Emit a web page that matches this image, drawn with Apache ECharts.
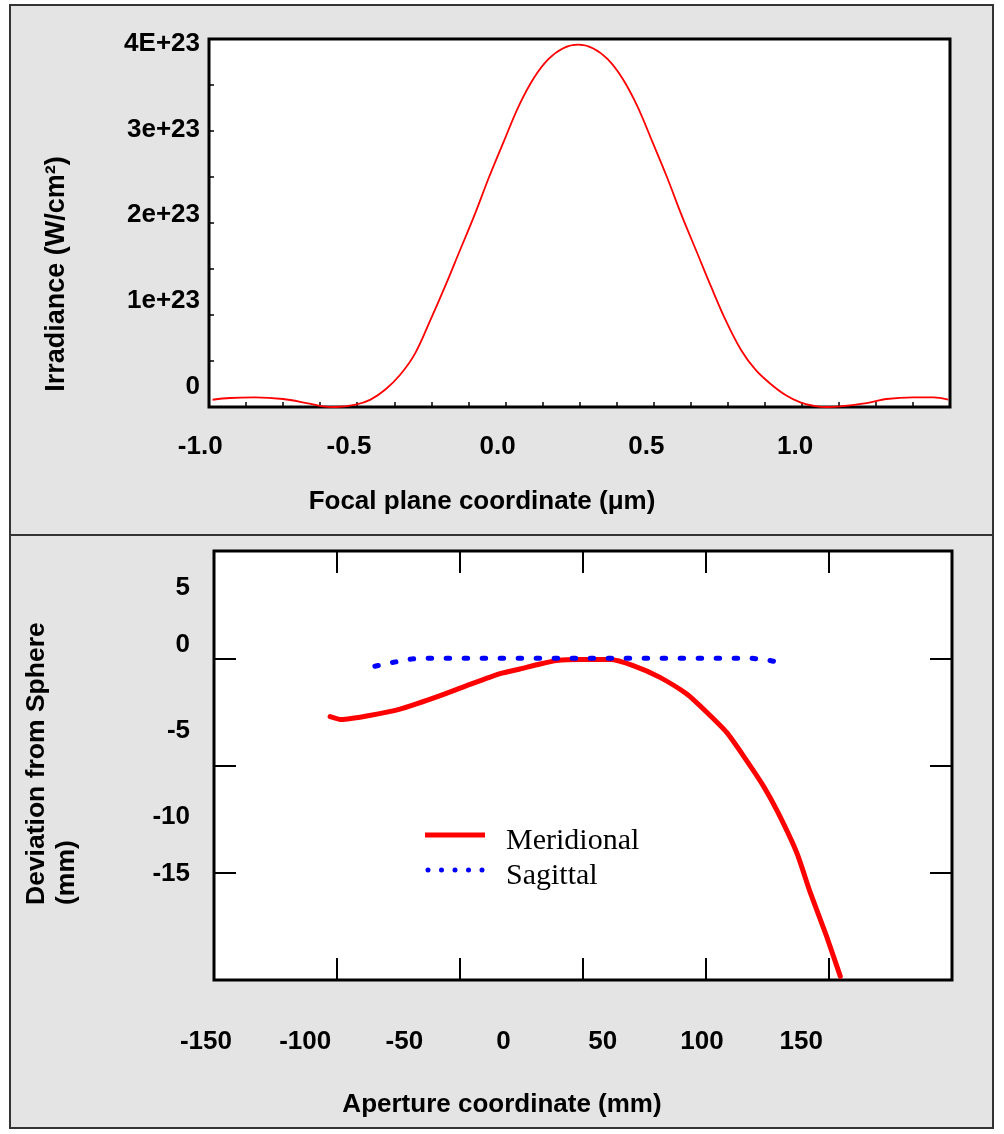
<!DOCTYPE html>
<html><head><meta charset="utf-8">
<script src="https://cdn.jsdelivr.net/npm/echarts@6/dist/echarts.min.js"></script>
<style>html,body{margin:0;padding:0;background:#fff}#c{width:1004px;height:1134px}</style>
</head><body><div id="c"></div>
<script>
// ---------- Top panel: irradiance profile (irradiance in units of 1e23 W/cm^2) ----------
const focalX = [-0.988,-0.929,-0.846,-0.750,-0.671,-0.616,-0.572,-0.505,-0.455,-0.405,-0.355,-0.305,-0.255,-0.205,-0.155,-0.105,-0.055,-0.005,0.045,0.095,0.145,0.195,0.245,0.295,0.345,0.395,0.445,0.495,0.545,0.595,0.645,0.695,0.745,0.795,0.845,0.895,0.945,0.995,1.045,1.085,1.129,1.219,1.286,1.376,1.444,1.494];
const irradianceE23 = [0.079,0.098,0.104,0.087,0.043,0.007,0.000,0.025,0.080,0.190,0.350,0.580,0.930,1.300,1.690,2.080,2.500,2.890,3.270,3.570,3.780,3.900,3.938,3.900,3.780,3.570,3.270,2.890,2.500,2.080,1.690,1.300,0.930,0.620,0.400,0.250,0.130,0.050,0.010,0.000,0.007,0.043,0.087,0.104,0.104,0.079];
const focalTickValues = [-1.0,-0.5,0.0,0.5,1.0];
const irrTickValues = [0,1,2,3,4];
const irrTickLabels = ['0','1e+23','2e+23','3e+23','4E+23'];

// ---------- Bottom panel: deviation from sphere ----------
const meridionalX = [-102.8,-98.1,-87.3,-74.4,-60.9,-47.3,-33.7,-25.6,-17.5,-10.7,-1.2,11.0,20.4,31.3,42.2,50.3,58.4,65.2,73.3,79.3,86.9,92.4,99.0,104.6];
const meridionalY = [-2.72,-2.86,-2.68,-2.37,-1.86,-1.28,-0.72,-0.50,-0.27,-0.11,-0.06,-0.06,-0.34,-0.89,-1.67,-2.52,-3.46,-4.55,-5.95,-7.20,-9.07,-10.93,-12.96,-14.83];
const sagittalX = [-84.6,-77.1,-69.6,-62.2,0,68.6,75.7,82.8];
const sagittalY = [-0.37,-0.19,-0.03,0,0,0,-0.10,-0.25];
const apertureTickValues = [-150,-100,-50,0,50,100,150];
const deviationTickValues = [5,0,-5,-10,-15];
const deviationOuterLabels = deviationTickValues.filter(v => v === 5 || v === -15);
const deviationInnerLabels = deviationTickValues.filter(v => v !== 5 && v !== -15);

const SANS = '"Liberation Sans", Arial, Helvetica, sans-serif';
const SERIF = '"Liberation Serif", "Times New Roman", Times, serif';
const lab = {color:'#000', fontSize:26, fontWeight:'bold', fontFamily:SANS};
const zip = (a,b) => a.map((v,i)=>[v,b[i]]);
const noLine = {show:false, onZero:false};
const dots = 'path://M0,2.5a2.5,2.5 0 1,0 5,0a2.5,2.5 0 1,0 -5,0z M13.5,2.5a2.5,2.5 0 1,0 5,0a2.5,2.5 0 1,0 -5,0z M27,2.5a2.5,2.5 0 1,0 5,0a2.5,2.5 0 1,0 -5,0z M40.5,2.5a2.5,2.5 0 1,0 5,0a2.5,2.5 0 1,0 -5,0z M54,2.5a2.5,2.5 0 1,0 5,0a2.5,2.5 0 1,0 -5,0z';

const chart = echarts.init(document.getElementById('c'), null, {renderer:'canvas'});
chart.setOption({
  animation:false,
  backgroundColor:'#fff',
  graphic:{elements:[
    {type:'rect', z:-100, shape:{x:10,y:5,width:983,height:530}, style:{fill:'#e4e4e4', stroke:'#333', lineWidth:2}},
    {type:'rect', z:-100, shape:{x:10,y:535,width:983,height:593}, style:{fill:'#e4e4e4', stroke:'#333', lineWidth:2}},
    {type:'text', z:100, x:482, y:502, style:{text:'Focal plane coordinate (μm)', align:'center', verticalAlign:'middle', fill:'#000', fontSize:26, fontWeight:'bold', fontFamily:SANS}},
    {type:'text', z:100, x:57, y:274, rotation:Math.PI/2, style:{text:'Irradiance (W/cm²)', align:'center', verticalAlign:'middle', fill:'#000', fontSize:27, fontWeight:'bold', fontFamily:SANS}},
    {type:'text', z:100, x:502, y:1105, style:{text:'Aperture coordinate (mm)', align:'center', verticalAlign:'middle', fill:'#000', fontSize:26, fontWeight:'bold', fontFamily:SANS}},
    {type:'text', z:100, x:22, y:905, rotation:Math.PI/2, style:{text:'Deviation from Sphere\n(mm)', align:'left', verticalAlign:'top', lineHeight:30, fill:'#000', fontSize:26.5, fontWeight:'bold', fontFamily:SANS}}
  ]},
  grid:[
    {left:209, top:39, width:741, height:368, show:true, backgroundColor:'#fff', borderColor:'#000', borderWidth:3},
    {left:150, top:39, width:800, height:368, show:false},
    {left:214, top:551, width:738, height:429, show:true, backgroundColor:'#fff', borderColor:'#000', borderWidth:3},
    {left:150, top:551, width:802, height:429, show:false}
  ],
  xAxis:[
    {gridIndex:0, type:'value', min:-1, max:1.5, interval:0.125, axisLine:noLine, splitLine:{show:false},
     axisTick:{inside:true, length:5, lineStyle:{color:'#000', width:1.5}}, axisLabel:{show:false}},
    {gridIndex:1, type:'value', min:-1.169, max:1.5208, axisLine:noLine, splitLine:{show:false}, axisTick:{show:false},
     axisLabel:Object.assign({customValues:focalTickValues, margin:27, formatter:v=>v.toFixed(1)}, lab)},
    {gridIndex:2, type:'value', min:-150, max:150, interval:50, position:'bottom', axisLine:noLine, splitLine:{show:false},
     axisTick:{inside:true, length:22, lineStyle:{color:'#000', width:2}}, axisLabel:{show:false}},
    {gridIndex:2, type:'value', min:-150, max:150, interval:50, position:'top', axisLine:noLine, splitLine:{show:false},
     axisTick:{inside:true, length:22, lineStyle:{color:'#000', width:2}}, axisLabel:{show:false}},
    {gridIndex:3, type:'value', min:-178.2, max:226, axisLine:noLine, splitLine:{show:false}, axisTick:{show:false},
     axisLabel:Object.assign({customValues:apertureTickValues, margin:49, formatter:v=>String(v)}, lab)}
  ],
  yAxis:[
    {gridIndex:0, type:'value', min:0, max:4, interval:0.5, position:'left', axisLine:noLine, splitLine:{show:false},
     axisTick:{inside:true, length:5, lineStyle:{color:'#000', width:1.5}}, axisLabel:{show:false}},
    {gridIndex:0, type:'value', min:-0.235, max:4.054, position:'left', axisLine:noLine, splitLine:{show:false}, axisTick:{show:false},
     axisLabel:Object.assign({customValues:irrTickValues, margin:9, formatter:v=>{
       let best=0; irrTickValues.forEach((t,i)=>{ if(Math.abs(t-v)<Math.abs(irrTickValues[best]-v)) best=i; }); return irrTickLabels[best]; }}, lab)},
    {gridIndex:1, type:'value', show:false, min:0, max:1},
    {gridIndex:2, type:'value', min:-15, max:5, interval:5, position:'left', axisLine:noLine, splitLine:{show:false},
     axisTick:{inside:true, length:22, lineStyle:{color:'#000', width:2}}, axisLabel:{show:false}},
    {gridIndex:2, type:'value', min:-15, max:5, interval:5, position:'right', axisLine:noLine, splitLine:{show:false},
     axisTick:{inside:true, length:22, lineStyle:{color:'#000', width:2}}, axisLabel:{show:false}},
    {gridIndex:2, type:'value', min:-19.477, max:5.465, position:'left', axisLine:noLine, splitLine:{show:false}, axisTick:{show:false},
     axisLabel:Object.assign({customValues:deviationInnerLabels, margin:24, formatter:v=>String(v)}, lab)},
    {gridIndex:2, type:'value', min:-22.413, max:7.587, position:'left', axisLine:noLine, splitLine:{show:false}, axisTick:{show:false},
     axisLabel:Object.assign({customValues:deviationOuterLabels, margin:24, formatter:v=>String(v)}, lab)},
    {gridIndex:3, type:'value', show:false, min:0, max:1}
  ],
  legend:{
    orient:'vertical', left:420, top:821, itemWidth:60, itemHeight:5, itemGap:5,
    formatter:'{a|{name}}',
    textStyle:{color:'#000', fontSize:30, fontFamily:SERIF, rich:{a:{padding:[12,0,0,16], fontSize:30, fontFamily:SERIF, color:'#000'}}},
    data:[
      {name:'Meridional', icon:'path://M0,0L60,0L60,5L0,5Z', itemStyle:{color:'#ff0000'}},
      {name:'Sagittal', icon:dots, itemStyle:{color:'#0000ff'}}
    ]
  },
  series:[
    {type:'line', name:'Irradiance', xAxisIndex:0, yAxisIndex:0, data:zip(focalX, irradianceE23), symbol:'none', smooth:0.35,
     lineStyle:{color:'#ff0000', width:1.8}, itemStyle:{color:'#ff0000'}},
    {type:'line', name:'Meridional', xAxisIndex:2, yAxisIndex:3, data:zip(meridionalX, meridionalY), symbol:'none', smooth:0.2,
     lineStyle:{color:'#ff0000', width:5, join:'round', cap:'round'}, itemStyle:{color:'#ff0000'}},
    {type:'line', name:'Sagittal', xAxisIndex:2, yAxisIndex:3, data:zip(sagittalX, sagittalY), symbol:'none',
     lineStyle:{color:'#0000ff', width:5, type:[3.5,14.5], cap:'round'}, itemStyle:{color:'#0000ff'}}
  ]
});
</script></body></html>
